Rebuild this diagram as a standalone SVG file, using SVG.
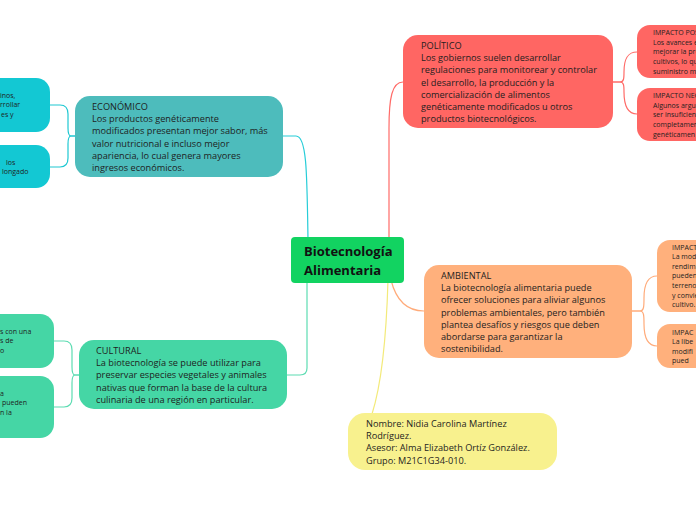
<svg xmlns="http://www.w3.org/2000/svg" width="696" height="520" viewBox="0 0 696 520">
<style>
text{font-family:"Open Sans","Noto Sans","DejaVu Sans",sans-serif;fill:#1e1e1e}
.t{font-size:9.2px}
.s{font-size:7px}
.c{font-size:13px;font-weight:bold;fill:#111}
.ln{fill:none;stroke-width:1.2;stroke-linecap:round}
</style>
<rect width="696" height="520" fill="#ffffff"/>
<g id="connectors">
<path class="ln" stroke="#26cdd8" d="M308 240 C307 175 307 136 296 136 L283 136"/>
<path class="ln" stroke="#1fc8d2" d="M75 136 L71 136 C69 136 68 133 68 128 L68 114 C68 108 66 105 60 105 L50 105"/>
<path class="ln" stroke="#1fc8d2" d="M75 136 L71 136 C69 136 68 139 68 144 L68 158 C68 164 66 167 60 167 L50 167"/>
<path class="ln" stroke="#5ddcb2" d="M307 280 L307 368 Q307 375 300 375 L287 375"/>
<path class="ln" stroke="#5ddcb2" d="M79 375 L75 375 C73 375 72 372 72 367 L72 350 C72 344 70 341 64 341 L54 341"/>
<path class="ln" stroke="#5ddcb2" d="M79 375 L75 375 C73 375 72 378 72 383 L72 398 C72 404 70 407 64 407 L54 407"/>
<path class="ln" stroke="#ff6b68" d="M389 240 L389 128 C389 98 392 82 403 82"/>
<path class="ln" stroke="#ff6b68" d="M613 82 L620 82 C624 82 624 78 624 72 C624 58 628 52 637 52"/>
<path class="ln" stroke="#ff6b68" d="M613 82 L620 82 C624 82 624 86 624 92 C624 107 628 114 637 114"/>
<path class="ln" stroke="#ffab7a" d="M391 280 C396 300 406 311 424 311"/>
<path class="ln" stroke="#ffab7a" d="M632 311 L640 311 C644 311 644 306 644 298 C644 284 648 276 657 276"/>
<path class="ln" stroke="#ffab7a" d="M632 311 L640 311 C644 311 644 316 644 324 C644 339 648 346 657 346"/>
<path class="ln" stroke="#f3ea7a" d="M388 280 C386 350 379 392 372 414"/>
</g>
<g id="econ-child1"><rect x="-30" y="78" width="80" height="54" rx="14" fill="#13c8d3"/>
<text class="s" x="0" y="97.7">inos,</text><text class="s" x="0" y="107.4">rrollar</text><text class="s" x="1" y="117.1">es y</text></g>
<g id="econ-child2"><rect x="-30" y="145" width="80" height="43" rx="14" fill="#13c8d3"/>
<text class="s" x="6" y="164.7">los</text><text class="s" x="2" y="174.4">longado</text></g>
<g id="economico"><rect x="75" y="96" width="208" height="81" rx="15" fill="#4dbcbc"/>
<text class="t" x="92" y="110">ECONÓMICO</text>
<text class="t" x="92" y="122.2">Los productos genéticamente</text>
<text class="t" x="92" y="134.4">modificados presentan mejor sabor, más</text>
<text class="t" x="92" y="146.6">valor nutricional e incluso mejor</text>
<text class="t" x="92" y="158.8">apariencia, lo cual genera mayores</text>
<text class="t" x="92" y="171">ingresos económicos.</text></g>
<g id="cult-child1"><rect x="-30" y="314" width="84" height="54" rx="14" fill="#45d6a5"/>
<text class="s" x="0" y="333.7">s con una</text><text class="s" x="0" y="343.4">s de</text><text class="s" x="0" y="353.1">o</text></g>
<g id="cult-child2"><rect x="-30" y="376" width="84" height="62" rx="14" fill="#45d6a5"/>
<text class="s" x="0" y="395.7">a</text><text class="s" x="2" y="405.4">pueden</text><text class="s" x="0" y="415.1">n la</text></g>
<g id="cultural"><rect x="79" y="340" width="208" height="69" rx="15" fill="#45d6a5"/>
<text class="t" x="96" y="354">CULTURAL</text>
<text class="t" x="96" y="366.2">La biotecnología se puede utilizar para</text>
<text class="t" x="96" y="378.4">preservar especies vegetales y animales</text>
<text class="t" x="96" y="390.6">nativas que forman la base de la cultura</text>
<text class="t" x="96" y="402.8">culinaria de una región en particular.</text></g>
<g id="politico"><rect x="403" y="35" width="210" height="93" rx="15" fill="#ff6663"/>
<text class="t" x="421" y="49">POLÍTICO</text>
<text class="t" x="421" y="61.2">Los gobiernos suelen desarrollar</text>
<text class="t" x="421" y="73.4">regulaciones para monitorear y controlar</text>
<text class="t" x="421" y="85.6">el desarrollo, la producción y la</text>
<text class="t" x="421" y="97.8">comercialización de alimentos</text>
<text class="t" x="421" y="110">genéticamente modificados u otros</text>
<text class="t" x="421" y="122.2">productos biotecnológicos.</text></g>
<g id="pol-child1"><rect x="637" y="25" width="100" height="53" rx="13" fill="#ff6663"/>
<text class="s" x="653" y="35">IMPACTO POS</text>
<text class="s" x="653" y="44.7">Los avances e</text>
<text class="s" x="653" y="54.4">mejorar la pro</text>
<text class="s" x="653" y="64.1">cultivos, lo qu</text>
<text class="s" x="653" y="73.8">suministro m</text></g>
<g id="pol-child2"><rect x="637" y="88" width="100" height="53" rx="13" fill="#ff6663"/>
<text class="s" x="653" y="98">IMPACTO NEG</text>
<text class="s" x="653" y="107.7">Algunos argu</text>
<text class="s" x="653" y="117.4">ser insuficien</text>
<text class="s" x="653" y="127.1">completamen</text>
<text class="s" x="653" y="136.8">genéticamen</text></g>
<g id="ambiental"><rect x="424" y="265" width="208" height="93" rx="15" fill="#ffb07c"/>
<text class="t" x="441" y="279">AMBIENTAL</text>
<text class="t" x="441" y="291.2">La biotecnología alimentaria puede</text>
<text class="t" x="441" y="303.4">ofrecer soluciones para aliviar algunos</text>
<text class="t" x="441" y="315.6">problemas ambientales, pero también</text>
<text class="t" x="441" y="327.8">plantea desafíos y riesgos que deben</text>
<text class="t" x="441" y="340">abordarse para garantizar la</text>
<text class="t" x="441" y="352.2">sostenibilidad.</text></g>
<g id="amb-child1"><rect x="657" y="240" width="80" height="72" rx="13" fill="#ffb07c"/>
<text class="s" x="672" y="249.5">IMPACT</text>
<text class="s" x="672" y="259.1">La mod</text>
<text class="s" x="672" y="268.7">rendim</text>
<text class="s" x="672" y="278.3">pueden</text>
<text class="s" x="672" y="287.9">terreno</text>
<text class="s" x="672" y="297.5">y convie</text>
<text class="s" x="672" y="307.1">cultivo.</text></g>
<g id="amb-child2"><rect x="657" y="324" width="80" height="44" rx="13" fill="#ffb07c"/>
<text class="s" x="672" y="334.5">IMPAC</text>
<text class="s" x="672" y="344.1">La libe</text>
<text class="s" x="672" y="353.7">modifi</text>
<text class="s" x="672" y="363.3">pued</text></g>
<g id="nombre"><rect x="348" y="413" width="209" height="57" rx="17" fill="#f8f18e"/>
<text class="t" x="366" y="427">Nombre: Nidia Carolina Martínez</text>
<text class="t" x="366" y="439.2">Rodríguez.</text>
<text class="t" x="366" y="451.4">Asesor: Alma Elizabeth Ortíz González.</text>
<text class="t" x="366" y="463.6">Grupo: M21C1G34-010.</text></g>
<g id="center"><rect x="291" y="237" width="113" height="46" rx="4" fill="#12d361"/>
<text class="c" x="304" y="256">Biotecnología</text>
<text class="c" x="304" y="274.5">Alimentaria</text></g>
</svg>
